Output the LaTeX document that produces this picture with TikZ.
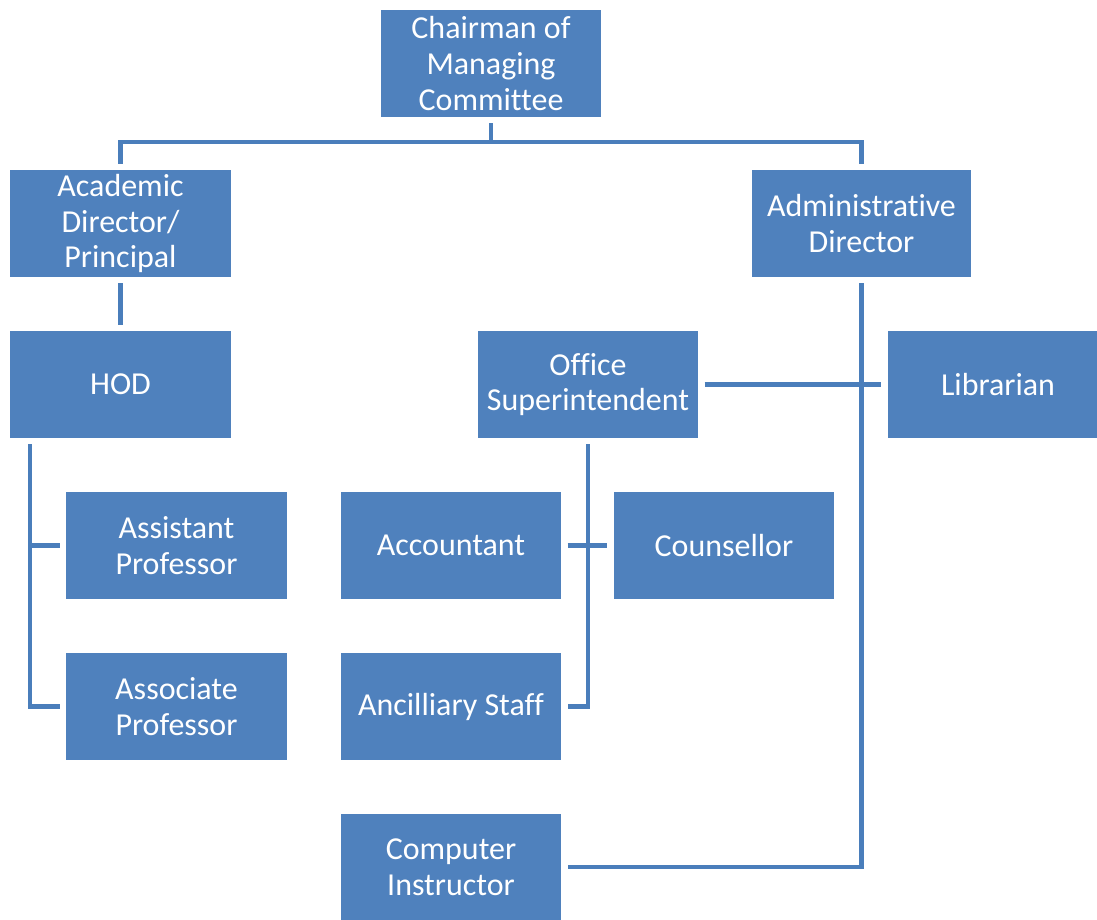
\documentclass[tikz,border=0pt]{standalone}
\usepackage{fontspec}
\setmainfont[Ligatures=CommonOff]{Carlito}
\usepackage{tikz}
\usetikzlibrary{calc}

\definecolor{boxblue}{HTML}{4F81BD}
\definecolor{lineblue}{HTML}{4A7EBB}

\tikzset{
  unit/.style={fill=boxblue, text=white, align=center, minimum width=4.42cm,
    minimum height=2.14cm, inner sep=0pt, outer sep=3.5pt,
    font=\fontsize{18.2}{20.3}\selectfont},
  link/.style={draw=lineblue, line width=2.5pt}
}

\begin{document}
\begin{tikzpicture}[x=0.02cm, y=-0.02cm]

  \useasboundingbox (0,0) rectangle (1097,919);

  % Define nodes
  \node[unit] (chair)  at (491,63.5)   {Chairman of\\Managing\\Committee};
  \node[unit] (acad)   at (120.5,223.5) {Academic\\Director/\\Principal};
  \node[unit, minimum width=4.38cm] (admin)  at (861.5,223.5) {Administrative\\Director};
  \node[unit] (hod)    at (120.5,384.5) {HOD};
  \node[unit] (office) at (588,384.5)   {Office\\Superintendent};
  \node[unit] (lib)    at (998,384.5)   {Librarian};
  \node[unit] (asst)   at (176.5,545.5) {Assistant\\Professor};
  \node[unit] (assoc)  at (176.5,706.5) {Associate\\Professor};
  \node[unit] (acct)   at (451,545.5)   {Accountant};
  \node[unit] (couns)  at (724,545.5)   {Counsellor};
  \node[unit] (ancil)  at (451,706.5)   {Ancilliary Staff};
  \node[unit] (comp)   at (451,867)     {Computer\\Instructor};

  \coordinate (bus) at (491,142);
  \coordinate (hodl) at ($(hod.south west)+(26,0)$);

  % Links
  \draw[link] (chair.south) -- (bus);
  \draw[link] (acad.north) |- (bus) -| (admin.north);
  \draw[link] (acad.south) -- (hod.north);
  \draw[link] (hodl) |- (assoc.west);
  \draw[link] (asst.west) -- (asst.west -| hodl);
  \draw[link] (office.east) -- (lib.west);
  \draw[link] (admin.south) |- (comp.east);
  \draw[link] (office.south) |- (ancil.east);
  \draw[link] (acct.east) -- (couns.west);

\end{tikzpicture}
\end{document}
